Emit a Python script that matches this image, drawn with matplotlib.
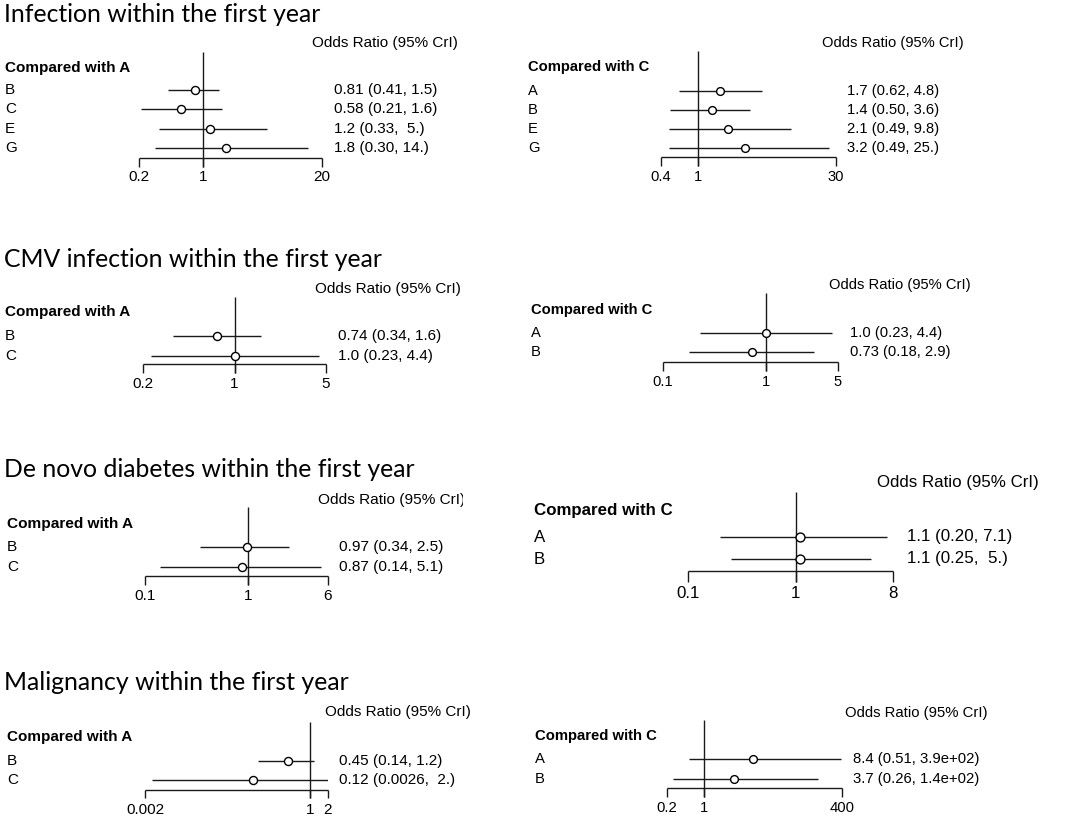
import matplotlib
matplotlib.use("Agg")
import matplotlib.pyplot as plt

W, H = 1084, 816

# ---------------- data ----------------
titles = ["Infection within the first year",
          "CMV infection within the first year",
          "De novo diabetes within the first year",
          "Malignancy within the first year"]

p1_labels = ["B", "C", "E", "G"]
p1_est = [0.81, 0.58, 1.2, 1.8]
p1_lo = [0.41, 0.21, 0.33, 0.30]
p1_hi = [1.5, 1.6, 5.0, 14.0]
p1_text = ["0.81 (0.41, 1.5)", "0.58 (0.21, 1.6)", "1.2 (0.33,  5.)", "1.8 (0.30, 14.)"]
p1_ticks = [0.2, 1, 20]
p1_ticklabels = ["0.2", "1", "20"]

p2_labels = ["A", "B", "E", "G"]
p2_est = [1.7, 1.4, 2.1, 3.2]
p2_lo = [0.62, 0.50, 0.49, 0.49]
p2_hi = [4.8, 3.6, 9.8, 25.0]
p2_text = ["1.7 (0.62, 4.8)", "1.4 (0.50, 3.6)", "2.1 (0.49, 9.8)", "3.2 (0.49, 25.)"]
p2_ticks = [0.4, 1, 30]
p2_ticklabels = ["0.4", "1", "30"]

p3_labels = ["B", "C"]
p3_est = [0.74, 1.0]
p3_lo = [0.34, 0.23]
p3_hi = [1.6, 4.4]
p3_text = ["0.74 (0.34, 1.6)", "1.0 (0.23, 4.4)"]
p3_ticks = [0.2, 1, 5]
p3_ticklabels = ["0.2", "1", "5"]

p4_labels = ["A", "B"]
p4_est = [1.0, 0.73]
p4_lo = [0.23, 0.18]
p4_hi = [4.4, 2.9]
p4_text = ["1.0 (0.23, 4.4)", "0.73 (0.18, 2.9)"]
p4_ticks = [0.1, 1, 5]
p4_ticklabels = ["0.1", "1", "5"]

p5_labels = ["B", "C"]
p5_est = [0.97, 0.87]
p5_lo = [0.34, 0.14]
p5_hi = [2.5, 5.1]
p5_text = ["0.97 (0.34, 2.5)", "0.87 (0.14, 5.1)"]
p5_ticks = [0.1, 1, 6]
p5_ticklabels = ["0.1", "1", "6"]

p6_labels = ["A", "B"]
p6_est = [1.1, 1.1]
p6_lo = [0.20, 0.25]
p6_hi = [7.1, 5.0]
p6_text = ["1.1 (0.20, 7.1)", "1.1 (0.25,  5.)"]
p6_ticks = [0.1, 1, 8]
p6_ticklabels = ["0.1", "1", "8"]

p7_labels = ["B", "C"]
p7_est = [0.45, 0.12]
p7_lo = [0.14, 0.0026]
p7_hi = [1.2, 2.0]
p7_text = ["0.45 (0.14, 1.2)", "0.12 (0.0026,  2.)"]
p7_ticks = [0.002, 1, 2]
p7_ticklabels = ["0.002", "1", "2"]

p8_labels = ["A", "B"]
p8_est = [8.4, 3.7]
p8_lo = [0.51, 0.26]
p8_hi = [390.0, 140.0]
p8_text = ["8.4 (0.51, 3.9e+02)", "3.7 (0.26, 1.4e+02)"]
p8_ticks = [0.2, 1, 400]
p8_ticklabels = ["0.2", "1", "400"]

ref_header = ["Compared with A", "Compared with C"]
or_header = "Odds Ratio (95% CrI)"

# ---------------- layout (pixels) ----------------
panels = [
    dict(d=(p1_labels, p1_est, p1_lo, p1_hi, p1_text, p1_ticks, p1_ticklabels), hdr=0,
         x0=139, x1=322, vtop=52, axy=158, tickb=167, laby=177, row0=90, rstep=19.3,
         lx=5, hy=68, vx=334, ox=312, oy=43, fs=11, ms=5.8),
    dict(d=(p2_labels, p2_est, p2_lo, p2_hi, p2_text, p2_ticks, p2_ticklabels), hdr=1,
         x0=661, x1=836, vtop=51, axy=157, tickb=166, laby=177, row0=91, rstep=19.0,
         lx=528, hy=67, vx=847, ox=822, oy=43, fs=10.6, ms=5.6),
    dict(d=(p3_labels, p3_est, p3_lo, p3_hi, p3_text, p3_ticks, p3_ticklabels), hdr=0,
         x0=143, x1=326, vtop=297, axy=364, tickb=373, laby=384, row0=336, rstep=20,
         lx=5, hy=312, vx=338, ox=315, oy=289, fs=11, ms=5.8),
    dict(d=(p4_labels, p4_est, p4_lo, p4_hi, p4_text, p4_ticks, p4_ticklabels), hdr=1,
         x0=663, x1=838, vtop=293, axy=362, tickb=371, laby=382, row0=333, rstep=19,
         lx=531, hy=310, vx=850, ox=829, oy=285, fs=10.6, ms=5.6),
    dict(d=(p5_labels, p5_est, p5_lo, p5_hi, p5_text, p5_ticks, p5_ticklabels), hdr=0,
         x0=145, x1=328, vtop=507, axy=576, tickb=585, laby=596, row0=547, rstep=20,
         lx=7, hy=524, vx=339, ox=318, oy=500, fs=11.1, ms=5.8, clip=463),
    dict(d=(p6_labels, p6_est, p6_lo, p6_hi, p6_text, p6_ticks, p6_ticklabels), hdr=1,
         x0=688, x1=893, vtop=492, axy=571, tickb=582, laby=593, row0=537, rstep=22,
         lx=534, hy=510, vx=907, ox=877, oy=482, fs=12.2, ms=6.4),
    dict(d=(p7_labels, p7_est, p7_lo, p7_hi, p7_text, p7_ticks, p7_ticklabels), hdr=0,
         x0=145, x1=328, vtop=722, axy=790, tickb=798, laby=810, row0=761, rstep=19,
         lx=7, hy=737, vx=339, ox=325, oy=712, fs=11, ms=5.8),
    dict(d=(p8_labels, p8_est, p8_lo, p8_hi, p8_text, p8_ticks, p8_ticklabels), hdr=1,
         x0=667, x1=842, vtop=720, axy=788, tickb=797, laby=808, row0=759, rstep=20,
         lx=535, hy=736, vx=853, ox=845, oy=713, fs=10.7, ms=5.6),
]

title_pos = [(4, 22, 315), (4, 267, 377), (4, 477, 410), (4, 690, 345)]

ARIAL = "Liberation Sans"
LC = "#1a1a1a"
LW = 1.0

fig = plt.figure(figsize=(W / 100, H / 100), dpi=100)
fig.patch.set_facecolor("white")

for p in panels:
    labels, est, lo, hi, txt, ticks, tlabels = p["d"]
    x0, x1 = p["x0"], p["x1"]
    yt, yb = p["vtop"] - 6, p["laby"] + 10
    ax = fig.add_axes([x0 / W, 1 - yb / H, (x1 - x0) / W, (yb - yt) / H])
    ax.set_xscale("log")
    ax.set_xlim(ticks[0], ticks[-1])
    ax.set_ylim(yb, yt)
    ax.axis("off")
    fs = p["fs"]
    rows = [p["row0"] + i * p["rstep"] for i in range(len(labels))]

    def fx(px):
        return (px - x0) / (x1 - x0)

    tr = ax.get_yaxis_transform()
    # reference line at OR = 1
    ax.vlines(1, p["vtop"], p["tickb"], color=LC, lw=LW, zorder=1)
    # CrI lines and point estimates
    ax.hlines(rows, lo, hi, color=LC, lw=LW, zorder=2)
    ax.plot(est, rows, "o", ms=p["ms"], mfc="white", mec="black", mew=1.0, zorder=3, clip_on=False)
    # axis
    ax.hlines(p["axy"], ticks[0], ticks[-1], color=LC, lw=LW, clip_on=False)
    ax.vlines(ticks, p["axy"], p["tickb"], color=LC, lw=LW, clip_on=False)
    for t, tl in zip(ticks, tlabels):
        ax.text(t, p["laby"], tl, ha="center", va="center", fontsize=fs, family=ARIAL, clip_on=False)
    # labels
    ax.text(fx(p["lx"]), p["hy"], ref_header[p["hdr"]], transform=tr, ha="left", va="center",
            fontsize=fs, family=ARIAL, fontweight="bold", clip_on=False)
    for r, lab, t in zip(rows, labels, txt):
        ax.text(fx(p["lx"]), r, lab, transform=tr, ha="left", va="center", fontsize=fs,
                family=ARIAL, clip_on=False)
        ax.text(fx(p["vx"]), r, t, transform=tr, ha="left", va="center", fontsize=fs,
                family=ARIAL, clip_on=False)
    ot = ax.text(fx(p["ox"]), p["oy"], or_header, transform=tr, ha="left", va="center",
                 fontsize=fs, family=ARIAL, clip_on=False)
    if "clip" in p:
        import matplotlib.transforms as mtransforms
        bb = mtransforms.Bbox.from_extents(0, 0, p["clip"], H)
        ot.set_clip_box(mtransforms.TransformedBbox(bb, mtransforms.Affine2D()))
        ot.set_clip_on(True)

renderer = fig.canvas.get_renderer()
for (tx, tyb, tw), title in zip(title_pos, titles):
    t = fig.text(tx / W, 1 - tyb / H, title, ha="left", va="baseline", fontsize=18, family="Lato")
    w = t.get_window_extent(renderer).width
    t.set_fontsize(18 * tw / w)

fig.savefig("out.png", dpi=100, facecolor="white")
